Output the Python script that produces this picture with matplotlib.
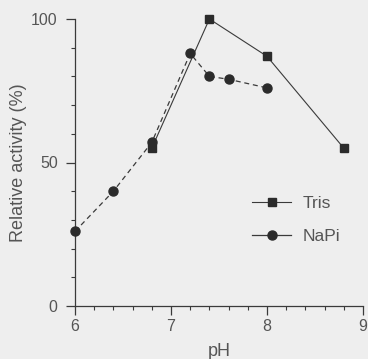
import matplotlib
matplotlib.use("Agg")
import matplotlib.pyplot as plt
from matplotlib.ticker import MultipleLocator

plt.rcParams['font.family'] = ['Liberation Sans', 'DejaVu Sans']

# data
tris_ph = [6.8, 7.4, 8.0, 8.8]
tris_act = [55, 100, 87, 55]
napi_ph = [6.0, 6.4, 6.8, 7.2, 7.4, 7.6, 8.0]
napi_act = [26, 40, 57, 88, 80, 79, 76]

bg = '#eeeeee'
ink = '#3a3a3a'
txt = '#555555'

fig = plt.figure(figsize=(3.68, 3.59), dpi=100, facecolor=bg)
ax = fig.add_axes([75 / 368, 53 / 359, 288 / 368, 287 / 359])
ax.set_facecolor(bg)

ax.plot(tris_ph, tris_act, '-', color=ink, lw=0.8, marker='s', ms=6,
        mfc='#2b2b2b', mec='#2b2b2b', clip_on=False, label='Tris', zorder=3)
ax.plot(napi_ph, napi_act, '--', color=ink, lw=0.9, dashes=(4, 3), marker='o', ms=6.5,
        mfc='#2b2b2b', mec='#2b2b2b', clip_on=False, label='NaPi', zorder=3)

ax.set_xlim(6, 9)
ax.set_ylim(0, 100)
ax.xaxis.set_major_locator(MultipleLocator(1))
ax.xaxis.set_minor_locator(MultipleLocator(0.2))
ax.yaxis.set_major_locator(MultipleLocator(50))
ax.yaxis.set_minor_locator(MultipleLocator(10))

for s in ['top', 'right']:
    ax.spines[s].set_visible(False)
for s in ['left', 'bottom']:
    ax.spines[s].set_color(ink)
    ax.spines[s].set_linewidth(0.9)

ax.tick_params(which='major', length=6.5, width=0.9, color=ink, labelcolor=txt,
               labelsize=11.5, direction='out')
ax.tick_params(axis='y', which='major', pad=6)
ax.tick_params(axis='x', which='major', pad=3)
ax.tick_params(which='minor', length=3, width=0.8, color=ink, direction='out')

ax.set_xlabel('pH', fontsize=13, color=txt)
ax.set_ylabel('Relative activity (%)', fontsize=13, color=txt)
ax.xaxis.set_label_coords(0.5, -0.13)
ax.yaxis.set_label_coords(-0.166, 0.5)

leg = ax.legend(loc='upper left', bbox_to_anchor=(0.615, 0.383), frameon=False,
                borderpad=0, borderaxespad=0,
                fontsize=12.5, handlelength=2.25, handletextpad=0.65, labelspacing=1.0,
                labelcolor=txt)
# solid handle lines in the legend, as drawn in the reference
for h in leg.legend_handles:
    h.set_linestyle('-')

fig.savefig('out.png', dpi=100, facecolor=bg)
